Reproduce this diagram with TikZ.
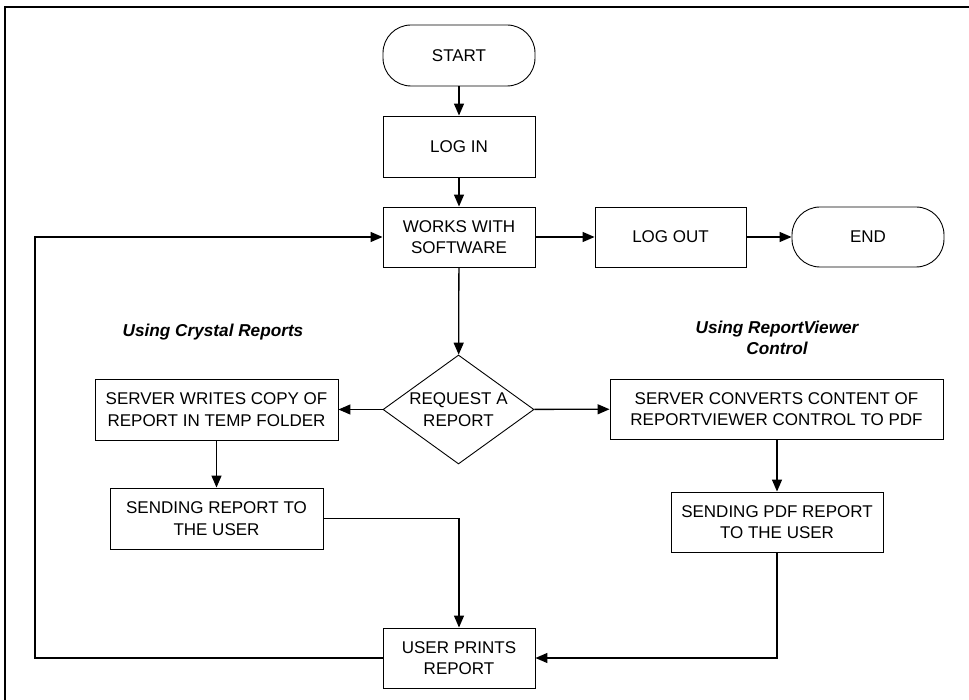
\documentclass[tikz,border=0pt]{standalone}
\usepackage{fontspec}
\setmainfont{Liberation Sans}
\usetikzlibrary{arrows.meta,shapes.geometric}
\begin{document}
\begin{tikzpicture}[x=1pt,y=-1pt,
  every node/.style={font=\fontsize{17}{21.5}\selectfont, align=center, inner sep=0pt},
  box/.style={draw, line width=0.9pt, minimum height=61pt},
  term/.style={draw, line width=0.9pt, minimum width=152pt, minimum height=61pt, rounded corners=28pt},
  dec/.style={draw, line width=0.9pt, diamond, minimum width=151pt, minimum height=109pt, aspect=1.385},
  note/.style={font=\fontsize{17.2}{21}\selectfont\bfseries\itshape},
  conn/.style={line width=1.3pt, -{Triangle[length=12pt,width=10pt]}},
  frame/.style={line width=2pt}
]
\useasboundingbox (0,0) rectangle (969,700);
\coordinate (fbl) at (4.5,701);
\coordinate (ftl) at (4.5,7);
\coordinate (ftr) at (975,7);
\draw[frame] (fbl) -- (ftl) -- (ftr);

\node[term] (start) at (459,55.5) {START};
\node[box, minimum width=152pt] (login) at (459,146.5) {LOG IN};
\node[box, minimum width=152pt, minimum height=60pt] (works) at (459,237) {WORKS WITH\\SOFTWARE};
\node[box, minimum width=151pt, minimum height=60pt] (logout) at (670.5,237) {LOG OUT};
\node[term, minimum height=60pt] (end) at (868,237) {END};
\node[dec] (req) at (458.5,409.5) {REQUEST A\\REPORT};
\node[box, minimum width=243pt] (writes) at (216.5,409.5) {SERVER WRITES COPY OF\\REPORT IN TEMP FOLDER};
\node[box, minimum width=333pt, minimum height=60pt] (converts) at (776.5,409) {SERVER CONVERTS CONTENT OF\\REPORTVIEWER CONTROL TO PDF};
\node[box, minimum width=213pt] (sendrep) at (216.5,518.5) {SENDING REPORT TO\\THE USER};
\node[box, minimum width=212pt, minimum height=60pt] (sendpdf) at (777,522) {SENDING PDF REPORT\\TO THE USER};
\node[box, minimum width=152pt, minimum height=60pt] (prints) at (459,658) {USER PRINTS\\REPORT};

\node[note] (crystal) at (213,332) {Using Crystal Reports};
\node[note] (rv) at (777,338) {Using ReportViewer\\Control};

\coordinate (loopbl) at (35,658);
\coordinate (looptl) at (35,237);
\coordinate (jr) at (459,518.5);
\coordinate (jp) at (777,658);

\draw[conn] (start) -- (login);
\draw[conn] (login) -- (works);
\draw[conn] (works) -- (logout);
\draw[conn] (logout) -- (end);
\draw[conn] (works) -- (req);
\draw[conn] (req) -- (writes);
\draw[conn] (req) -- (converts);
\draw[conn] (writes) -- (sendrep);
\draw[conn] (converts.south -| sendpdf) -- (sendpdf);
\draw[conn] (sendrep.east) -- (jr) -- (prints.north);
\draw[conn] (sendpdf.south) -- (jp) -- (prints.east);
\draw[conn] (prints.west) -- (loopbl) -- (looptl) -- (works.west);
\end{tikzpicture}
\end{document}
